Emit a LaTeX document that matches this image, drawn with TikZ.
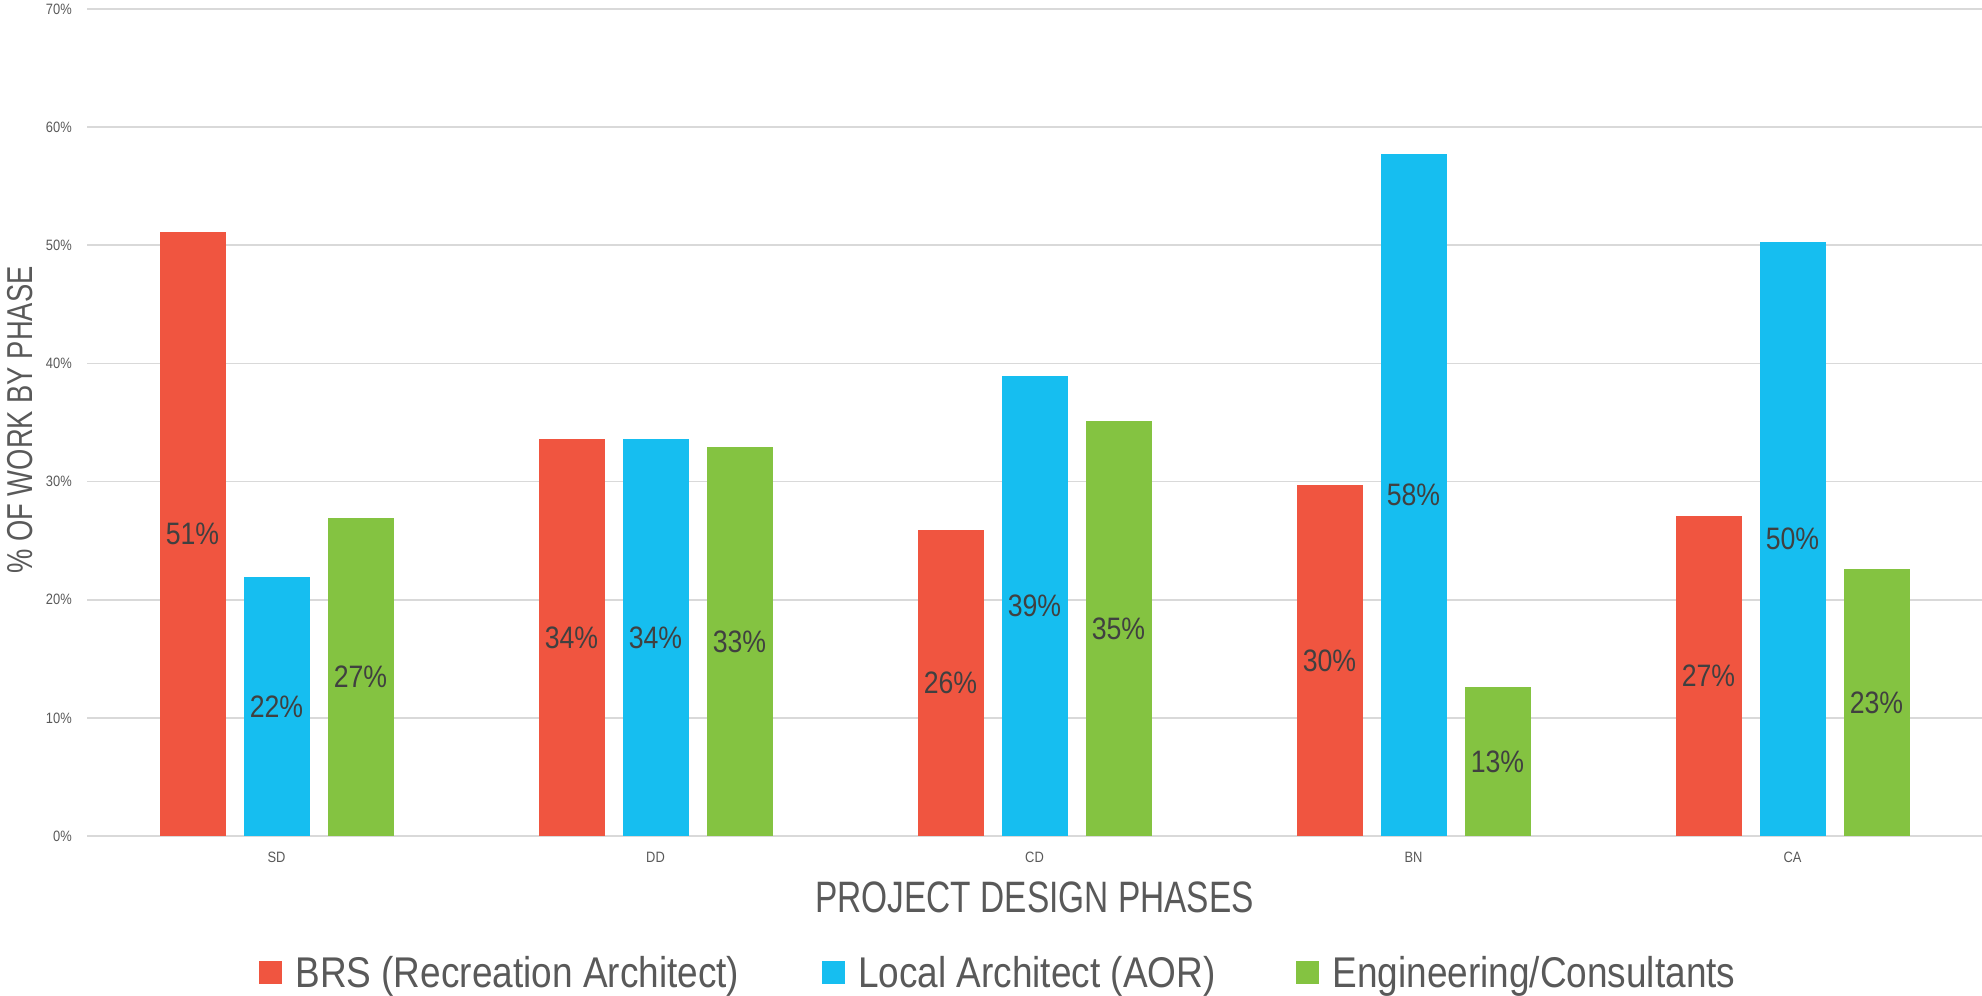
\documentclass[tikz,border=0pt]{standalone}
\usepackage{fontspec}
\newfontfamily\labfont{Liberation Sans}[FakeStretch=0.86]
\newfontfamily\titlefont{Liberation Sans}[FakeStretch=0.76]
\usepackage{tikz}
\usetikzlibrary{positioning}
\definecolor{brs}{RGB}{240,85,64}
\definecolor{aor}{RGB}{22,190,240}
\definecolor{eng}{RGB}{132,195,65}
\definecolor{gridgray}{RGB}{217,217,217}
\definecolor{txtgray}{RGB}{89,89,89}
\definecolor{valgray}{RGB}{64,64,64}
\tikzset{
  grid line/.style={draw=gridgray, line width=1.8pt},
  tick label/.style={anchor=east, inner sep=0, text=txtgray, font=\labfont\fontsize{15}{18}\selectfont},
  cat label/.style={inner sep=0, text=txtgray, font=\labfont\fontsize{15}{18}\selectfont},
  value label/.style={inner sep=0, text=valgray, font=\labfont\fontsize{31}{36}\selectfont},
  axis title/.style={inner sep=0, text=txtgray, font=\titlefont\fontsize{44}{50}\selectfont},
  swatch/.style={minimum size=23pt, inner sep=0},
  legend text/.style={inner sep=0, text height=30pt, text depth=0pt, text=txtgray,
                      font=\labfont\fontsize{43}{50}\selectfont}
}
\begin{document}
\begin{tikzpicture}[x=1pt,y=1pt]
\useasboundingbox (0,0) rectangle (1982,996);
% grille et graduations
\foreach \v in {0,10,...,70}{
  \draw[grid line] (87,{160+\v*11.814}) -- (1982,{160+\v*11.814});
  \node[tick label] (tick\v) at (72,{160+\v*11.814}) {\v\%};
}
% barres
\foreach \g/\phase/\r/\b/\e in {0/SD/51.1/21.9/26.9, 1/DD/33.6/33.6/32.9,
    2/CD/25.9/38.9/35.1, 3/BN/29.7/57.7/12.6, 4/CA/27.1/50.3/22.6}{
  \pgfmathsetmacro{\cx}{276.5+379*\g}
  \node[cat label] (cat\phase) at (\cx,139) {\phase};
  \foreach \k/\col/\val in {-1/brs/\r, 0/aor/\b, 1/eng/\e}{
    \pgfmathsetmacro{\bx}{\cx+84*\k}
    \pgfmathtruncatemacro{\pct}{round(\val)}
    \fill[\col] ({\bx-33},160) rectangle ({\bx+33},{160+\val*11.814});
    \node[value label] (val\phase\col) at (\bx,{160+\val*5.907}) {\pct\%};
  }
}
\node[axis title] (xtitle) at (1034.5,99) {PROJECT DESIGN PHASES};
\node[axis title, font=\titlefont\fontsize{36}{42}\selectfont, rotate=90] (ytitle) at (20,576) {\% OF WORK BY PHASE};
% legende
\node[swatch, fill=brs] (keyBRS) at (270.5,23) {};
\node[legend text, right=13pt of keyBRS] (txtBRS) {BRS (Recreation Architect)};
\node[swatch, fill=aor, right=82pt of txtBRS] (keyAOR) {};
\node[legend text, right=13pt of keyAOR] (txtAOR) {Local Architect (AOR)};
\node[swatch, fill=eng, right=80pt of txtAOR] (keyENG) {};
\node[legend text, right=13pt of keyENG] (txtENG) {Engineering/Consultants};
\end{tikzpicture}
\end{document}
